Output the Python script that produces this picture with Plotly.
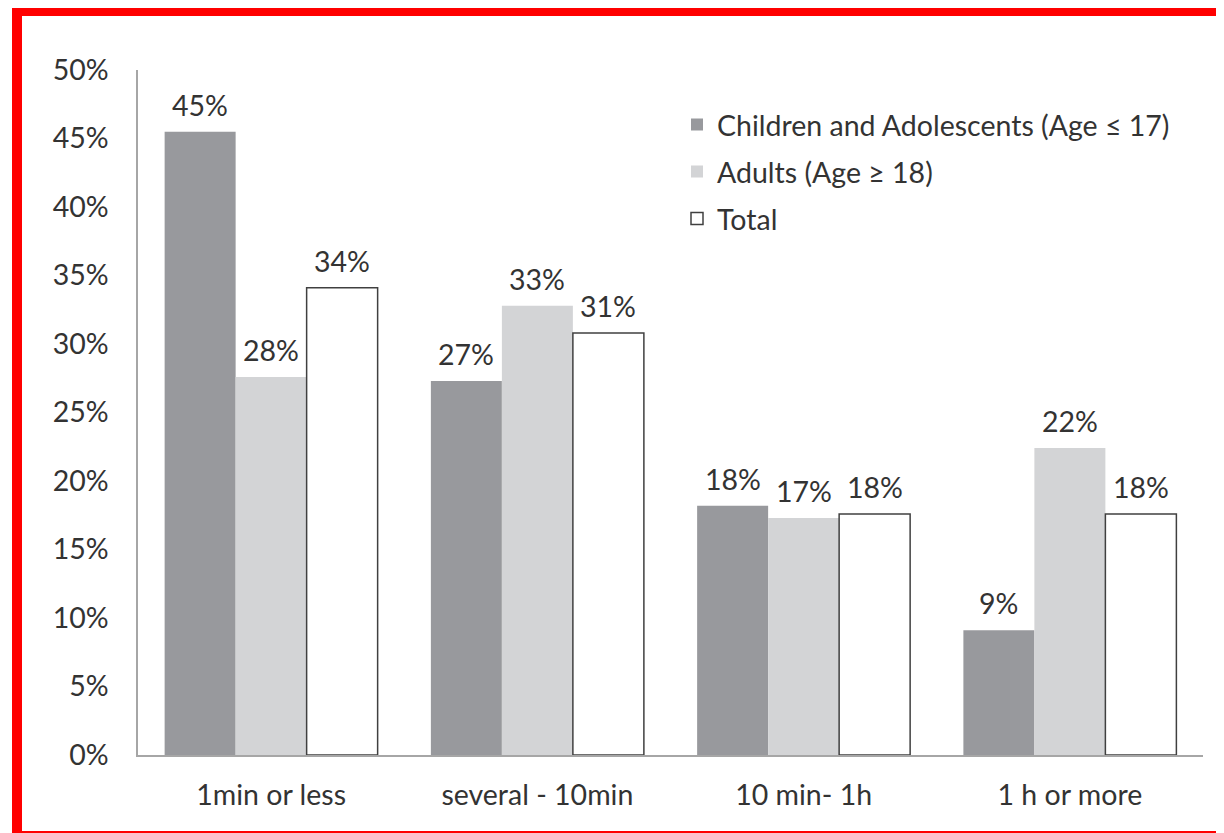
import plotly.graph_objects as go

categories = ["1min or less", "several - 10min", "10 min- 1h", "1 h or more"]
series_names = ["Children and Adolescents (Age ≤ 17)", "Adults (Age ≥ 18)", "Total"]
children = [0.455, 0.273, 0.182, 0.091]
adults = [0.276, 0.328, 0.173, 0.224]
total = [0.341, 0.308, 0.176, 0.176]
children_labels = ["45%", "27%", "18%", "9%"]
adults_labels = ["28%", "33%", "17%", "22%"]
total_labels = ["34%", "31%", "18%", "18%"]
y_ticks = [0, 0.05, 0.10, 0.15, 0.20, 0.25, 0.30, 0.35, 0.40, 0.45, 0.50]

# page offset (body margin) in the screenshot
OFF = 8
W, H = 1224 - OFF, 833 - OFF
# desired plot area in screenshot pixels
PL, PR, PT, PB = 138, 1203, 70, 755
ML = PL - OFF
MT = PT - OFF
plot_w = PR - PL
plot_h = PB - PT
MR = W - ML - plot_w
MB = H - MT - plot_h
BARGAP = 0.2
FONT = "Lato"
FS = 28.5
TXT = "#333333"

fills = ["#98999d", "#d3d4d6", "#ffffff"]
lines = ["#98999d", "#d3d4d6", "#404040"]
lwidths = [0, 0, 1.5]
data = [children, adults, total]
labels = [children_labels, adults_labels, total_labels]
legend_ids = ["legend", "legend2", "legend3"]

fig = go.Figure()
for k in range(3):
    fig.add_trace(go.Bar(
        x=categories, y=data[k], name=series_names[k],
        marker=dict(color=fills[k], line=dict(color=lines[k], width=lwidths[k])),
        legend=legend_ids[k], showlegend=True, hoverinfo="skip",
    ))

bar_px = plot_w / len(categories) * (1 - BARGAP) / 3
for k in range(3):
    for i, c in enumerate(categories):
        fig.add_annotation(
            x=c, y=data[k][i], text=labels[k][i], showarrow=False,
            xref="x", yref="y", yanchor="bottom", yshift=8,
            xshift=(k - 1) * bar_px,
            font=dict(family=FONT, size=FS, color=TXT),
        )

def px_x(p):
    return (p - PL) / plot_w

def px_y(p):
    return (PB - p) / plot_h

fig.add_shape(type="rect", xref="paper", yref="paper",
              x0=px_x(17), x1=px_x(1250), y0=px_y(11), y1=px_y(836),
              line=dict(color="#ff0000", width=10), fillcolor="rgba(0,0,0,0)",
              layer="above")

legend_common = dict(
    x=px_x(677), xanchor="left", yanchor="middle",
    font=dict(family=FONT, size=FS, color=TXT),
    bgcolor="rgba(0,0,0,0)", borderwidth=0, itemclick=False,
)
fig.update_layout(
    width=W, height=H,
    margin=dict(l=ML, r=MR, t=MT, b=MB),
    paper_bgcolor="white", plot_bgcolor="white",
    barmode="group", bargap=BARGAP, bargroupgap=0,
    showlegend=True,
    font=dict(family=FONT, size=FS, color=TXT),
    legend=dict(y=px_y(125), **legend_common),
    legend2=dict(y=px_y(172), **legend_common),
    legend3=dict(y=px_y(219), **legend_common),
    xaxis=dict(showline=True, linecolor="#a6a6a6", linewidth=1.5,
               showgrid=False, ticks="", ticklabelstandoff=14,
               tickfont=dict(family=FONT, size=FS, color=TXT)),
    yaxis=dict(range=[0, 0.5], tickvals=y_ticks, tickformat=".0%",
               showline=True, linecolor="#a6a6a6", linewidth=1.5,
               showgrid=False, zeroline=False, ticks="",
               ticklabelstandoff=22,
               tickfont=dict(family=FONT, size=FS, color=TXT)),
)

fig.write_html("out.html")
